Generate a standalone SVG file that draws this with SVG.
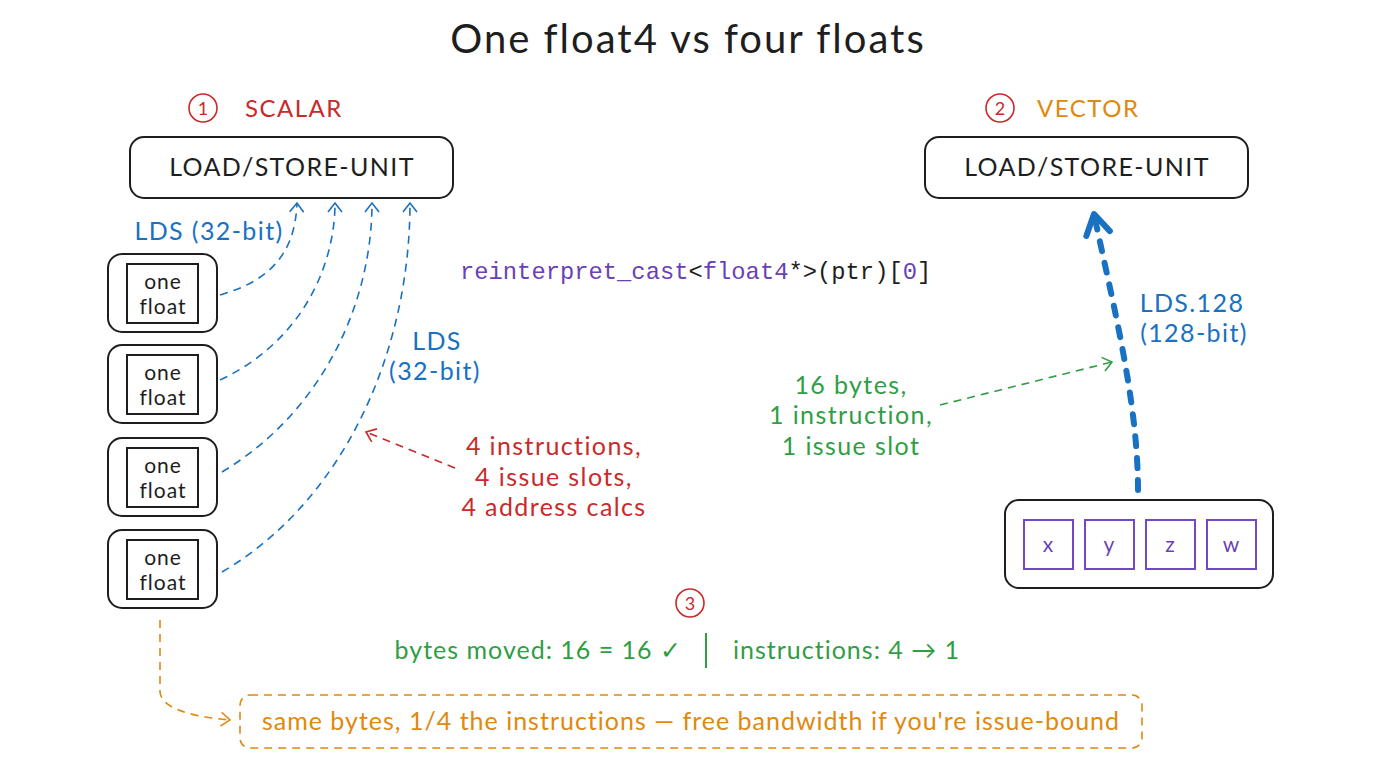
<svg xmlns="http://www.w3.org/2000/svg" width="1376" height="768" viewBox="0 0 1376 768">
<style>
text{font-family:"Lato","Liberation Sans",sans-serif;}
.t{font-size:40px;fill:#1e1e1e;text-anchor:middle;letter-spacing:2px}
.box{fill:#fff;stroke:#1e1e1e;stroke-width:2}
.lsu{font-size:25px;fill:#1e1e1e;text-anchor:middle;letter-spacing:1.4px}
.fl{font-size:21px;fill:#1e1e1e;text-anchor:middle;letter-spacing:1px}
.red{fill:#c92a2a}.blue{fill:#1971c2}.green{fill:#2f9e44}.orange{fill:#e0880f}.purple{fill:#6b3fb5}
.lbl{font-size:25px;letter-spacing:1.4px}
.sm{letter-spacing:1px}
.mid{text-anchor:middle}
.end{text-anchor:end}
.hd{font-size:24px;letter-spacing:1.5px}
.nm{font-size:18px;text-anchor:middle}
.code{font-family:"Liberation Mono","DejaVu Sans Mono",monospace;font-size:23.8px;fill:#1e1e1e}
.cb{fill:none;stroke:#1971c2;stroke-width:1.6;stroke-dasharray:8 6}
.num{fill:none;stroke:#c92a2a;stroke-width:1.6}
.sq{fill:#fff;stroke:#7048c8;stroke-width:2}
</style>
<defs>
<marker id="ab" viewBox="0 0 20 20" refX="10" refY="10" markerWidth="20" markerHeight="20" markerUnits="userSpaceOnUse" orient="auto">
<path d="M1,3 L10,10 L1,17" fill="none" stroke="#1971c2" stroke-width="1.6"/>
</marker>
<marker id="ar" viewBox="0 0 20 20" refX="10" refY="10" markerWidth="20" markerHeight="20" markerUnits="userSpaceOnUse" orient="auto">
<path d="M1,3 L10,10 L1,17" fill="none" stroke="#c92a2a" stroke-width="1.6"/>
</marker>
<marker id="ag" viewBox="0 0 20 20" refX="10" refY="10" markerWidth="20" markerHeight="20" markerUnits="userSpaceOnUse" orient="auto">
<path d="M1,3 L10,10 L1,17" fill="none" stroke="#2f9e44" stroke-width="1.6"/>
</marker>
<marker id="ao" viewBox="0 0 20 20" refX="10" refY="10" markerWidth="20" markerHeight="20" markerUnits="userSpaceOnUse" orient="auto">
<path d="M1,3 L10,10 L1,17" fill="none" stroke="#e0880f" stroke-width="1.6"/>
</marker>
<marker id="abig" viewBox="0 0 40 40" refX="24" refY="20" markerWidth="40" markerHeight="40" markerUnits="userSpaceOnUse" orient="auto">
<path d="M4,8 L24,20 L4,32" fill="none" stroke="#1971c2" stroke-width="6" stroke-linecap="round" stroke-linejoin="round"/>
</marker>
</defs>

<text class="t" x="688" y="53">One float4 vs four floats</text>

<g id="scalar-head">
<circle class="num" cx="203" cy="108" r="14"/>
<text x="203" y="115" class="nm red">1</text>
<text x="245" y="117" class="hd red">SCALAR</text>
</g>
<g id="vector-head">
<circle class="num" cx="1000" cy="108" r="14"/>
<text x="1000" y="115" class="nm red">2</text>
<text x="1037" y="117" class="hd orange">VECTOR</text>
</g>

<g id="lsu-scalar">
<rect class="box" x="130" y="137" width="323" height="61" rx="14"/>
<text class="lsu" x="292" y="176">LOAD/STORE-UNIT</text>
</g>
<g id="lsu-vector">
<rect class="box" x="925" y="137" width="323" height="61" rx="14"/>
<text class="lsu" x="1087" y="176">LOAD/STORE-UNIT</text>
</g>

<g id="float1">
<rect class="box" x="108" y="254" width="109" height="78" rx="14"/>
<rect class="box" x="127" y="264" width="71" height="59"/>
<text class="fl" x="163" y="289">one</text><text class="fl" x="163" y="314">float</text>
</g>
<g id="float2">
<rect class="box" x="108" y="345" width="109" height="78" rx="14"/>
<rect class="box" x="127" y="355" width="71" height="59"/>
<text class="fl" x="163" y="380">one</text><text class="fl" x="163" y="405">float</text>
</g>
<g id="float3">
<rect class="box" x="108" y="438" width="109" height="78" rx="14"/>
<rect class="box" x="127" y="448" width="71" height="59"/>
<text class="fl" x="163" y="473">one</text><text class="fl" x="163" y="498">float</text>
</g>
<g id="float4">
<rect class="box" x="108" y="530" width="109" height="78" rx="14"/>
<rect class="box" x="127" y="540" width="71" height="59"/>
<text class="fl" x="163" y="565">one</text><text class="fl" x="163" y="590">float</text>
</g>

<g id="xyzw">
<rect class="box" x="1005" y="500" width="268" height="88" rx="14"/>
<rect class="sq" x="1024" y="520" width="49" height="49"/>
<rect class="sq" x="1085" y="520" width="49" height="49"/>
<rect class="sq" x="1146" y="520" width="49" height="49"/>
<rect class="sq" x="1207" y="520" width="49" height="49"/>
<text class="purple mid" font-size="21" x="1048" y="552">x</text>
<text class="purple mid" font-size="21" x="1109" y="552">y</text>
<text class="purple mid" font-size="21" x="1170" y="552">z</text>
<text class="purple mid" font-size="21" x="1231" y="552">w</text>
</g>

<g id="connectors">
<path class="cb" d="M220,295 C265,282 295,258 297,203" marker-end="url(#ab)"/>
<path class="cb" d="M220,380 C305,340 335,262 335,203" marker-end="url(#ab)"/>
<path class="cb" d="M222,472 C325,410 372,300 372,203" marker-end="url(#ab)"/>
<path class="cb" d="M222,572 C345,500 410,350 410,203" marker-end="url(#ab)"/>
<path d="M455,468 L366,432" fill="none" stroke="#c92a2a" stroke-width="1.6" stroke-dasharray="8 6" marker-end="url(#ar)"/>
<path d="M940,405 L1112,362" fill="none" stroke="#2f9e44" stroke-width="1.6" stroke-dasharray="8 6" marker-end="url(#ag)"/>
<path d="M1138,490 C1138,400 1112,300 1094,214" fill="none" stroke="#1971c2" stroke-width="6" stroke-linecap="round" stroke-dasharray="10 12" marker-end="url(#abig)"/>
<path d="M160,620 L160,692 Q162,714 230,720" fill="none" stroke="#e0880f" stroke-width="1.6" stroke-dasharray="8 6" marker-end="url(#ao)"/>
</g>

<g id="labels">
<text class="lbl blue mid" x="209" y="240">LDS (32-bit)</text>
<text class="lbl blue mid" x="437" y="350">LDS</text>
<text class="lbl blue mid" x="435" y="380">(32-bit)</text>
<text class="code" x="460" y="279"><tspan class="purple">reinterpret_cast</tspan>&lt;<tspan class="purple">float4</tspan>*&gt;(ptr)[<tspan class="purple">0</tspan>]</text>
<text class="lbl red mid" x="554" y="455">4 instructions,</text>
<text class="lbl red mid" x="554" y="486">4 issue slots,</text>
<text class="lbl red mid" x="554" y="516">4 address calcs</text>
<text class="lbl green mid" x="851" y="394">16 bytes,</text>
<text class="lbl green mid" x="851" y="424">1 instruction,</text>
<text class="lbl green mid" x="851" y="455">1 issue slot</text>
<text class="lbl blue mid" x="1192" y="312">LDS.128</text>
<text class="lbl blue mid" x="1194" y="342">(128-bit)</text>
</g>

<g id="summary">
<circle class="num" cx="690" cy="603" r="14"/>
<text x="690" y="610" class="nm red">3</text>
<text class="lbl sm green end" x="682" y="659">bytes moved: 16 = 16 ✓</text>
<line x1="706" y1="633" x2="706" y2="668" stroke="#2f9e44" stroke-width="2"/>
<text class="lbl sm green" x="733" y="659">instructions: 4 → 1</text>
</g>

<g id="note">
<rect x="240" y="695" width="902" height="53" rx="10" fill="none" stroke="#e0880f" stroke-width="1.6" stroke-dasharray="8 6"/>
<text class="lbl sm orange mid" x="691" y="730">same bytes, 1/4 the instructions — free bandwidth if you're issue-bound</text>
</g>
</svg>
